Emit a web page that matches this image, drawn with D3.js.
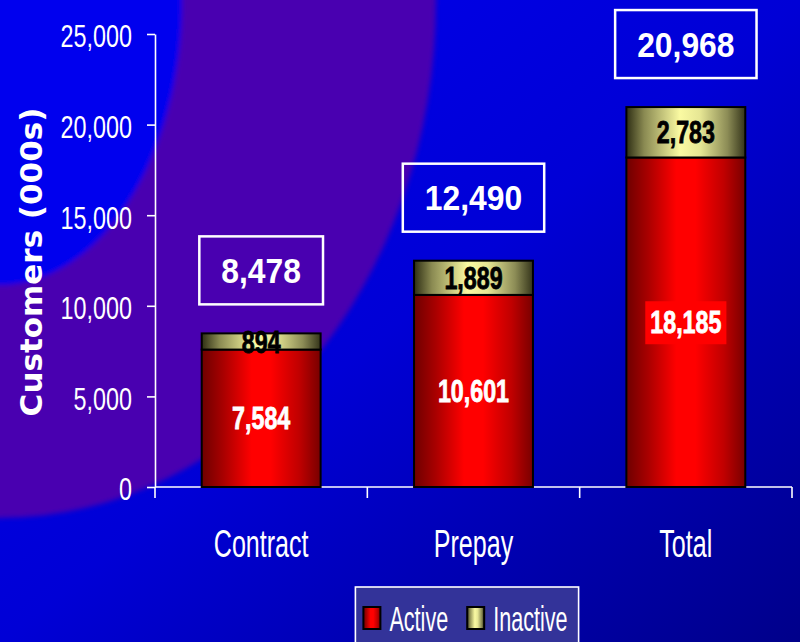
<!DOCTYPE html>
<html>
<head>
<meta charset="utf-8">
<script src="https://cdn.jsdelivr.net/npm/d3@7"></script>
<style>
  html, body { margin: 0; padding: 0; background: #0000cc; }
  svg { display: block; }
</style>
</head>
<body>
<div id="chart"></div>
<script>
// data
var categories = ["Contract", "Prepay", "Total"];
var activeValues = [7584, 10601, 18185];
var inactiveValues = [894, 1889, 2783];
var totalValues = [8478, 12490, 20968];
var yTickValues = [0, 5000, 10000, 15000, 20000, 25000];
var seriesNames = ["Active", "Inactive"];

var W = 800, H = 642;
var margin = {top: 34, right: 8, bottom: 155, left: 155};
var plotW = W - margin.left - margin.right,
    plotH = H - margin.top - margin.bottom;

var fmt = d3.format(",");

var svg = d3.select("#chart").append("svg")
    .attr("width", W)
    .attr("height", H);

var defs = svg.append("defs");

// background gradients
var bg = defs.append("linearGradient").attr("id", "bg")
    .attr("x1", 0).attr("y1", 0).attr("x2", 1).attr("y2", 1);
bg.append("stop").attr("offset", 0).attr("stop-color", "#0000f2");
bg.append("stop").attr("offset", 0.5).attr("stop-color", "#0000d6");
bg.append("stop").attr("offset", 1).attr("stop-color", "#00008a");

defs.append("filter").attr("id", "soft")
  .append("feGaussianBlur").attr("stdDeviation", 2.5);

// bar shading
function shade(id, stops) {
    var g = defs.append("linearGradient").attr("id", id)
        .attr("x1", 0).attr("y1", 0).attr("x2", 1).attr("y2", 0);
    stops.forEach(function(s) {
        g.append("stop").attr("offset", s[0]).attr("stop-color", s[1]);
    });
}
shade("redShade", [[0, "#6e0000"], [0.18, "#a80000"], [0.42, "#ff0000"], [0.58, "#ff0000"], [0.82, "#c00000"], [1, "#780000"]]);
shade("yelShade", [[0, "#2e2e14"], [0.15, "#8a8a52"], [0.45, "#fafaa2"], [0.62, "#e6e694"], [0.85, "#8c8c56"], [1, "#34341a"]]);

svg.append("rect").attr("width", W).attr("height", H).attr("fill", "url(#bg)");

// purple blob round the top-left corner
var blob = svg.append("g").attr("filter", "url(#soft)");
blob.append("ellipse")
    .attr("cx", 0).attr("cy", 0).attr("rx", 436).attr("ry", 518)
    .attr("fill", "#4a00b0");
blob.append("ellipse")
    .attr("cx", 0).attr("cy", 0).attr("rx", 182).attr("ry", 285)
    .attr("fill", "#0000ee");

var g = svg.append("g")
    .attr("transform", "translate(" + margin.left + "," + margin.top + ")");

var x = d3.scaleBand()
    .domain(categories)
    .range([0, plotW])
    .padding(0);

var y = d3.scaleLinear()
    .domain([0, 25000])
    .range([plotH, 0]);

var barW = x.bandwidth() * 0.56;
var barOff = (x.bandwidth() - barW) / 2;

var rows = categories.map(function(c, i) {
    return {cat: c, active: activeValues[i], inactive: inactiveValues[i], total: totalValues[i]};
});

// condensed text helper: squeeze horizontally around given x
function squeeze(sel, k, cx) {
    sel.attr("transform", "scale(" + k + ",1)")
       .attr("x", function(d, i) { return (typeof cx === "function" ? cx(d, i) : cx) / k; });
}

// y axis
var yAxis = g.append("g")
    .call(d3.axisLeft(y).tickValues(yTickValues).tickSize(8).tickSizeOuter(0).tickFormat(fmt));
yAxis.select(".domain").attr("stroke", "#fff").attr("stroke-width", 1.6);
yAxis.selectAll(".tick line").attr("stroke", "#fff").attr("stroke-width", 1.6);
yAxis.selectAll(".tick text")
    .attr("fill", "#fff")
    .attr("font-family", "'Liberation Sans', Arial, sans-serif")
    .attr("font-size", 32)
    .attr("dy", "0.4em")
    .call(squeeze, 0.73, -23);

// x axis: baseline with ticks at band edges
g.append("line")
    .attr("x1", 0).attr("x2", plotW)
    .attr("y1", plotH).attr("y2", plotH)
    .attr("stroke", "#fff").attr("stroke-width", 1.6);
var edges = categories.map(function(c) { return x(c); }).concat([plotW]);
g.selectAll(".xtick").data(edges).enter().append("line")
    .attr("class", "xtick")
    .attr("x1", function(d) { return d; }).attr("x2", function(d) { return d; })
    .attr("y1", plotH).attr("y2", plotH + 11)
    .attr("stroke", "#fff").attr("stroke-width", 1.6);

g.selectAll(".cat").data(categories).enter().append("text")
    .attr("class", "cat")
    .attr("y", plotH + 70)
    .attr("text-anchor", "middle")
    .attr("fill", "#fff")
    .attr("font-family", "'Liberation Sans', Arial, sans-serif")
    .attr("font-size", 38)
    .text(function(d) { return d; })
    .call(squeeze, 0.66, function(d) { return x(d) + x.bandwidth() / 2; });

// y axis title
svg.append("text")
    .attr("transform", "translate(42,262) rotate(-90)")
    .attr("text-anchor", "middle")
    .attr("fill", "#fff")
    .attr("font-family", "'DejaVu Sans', sans-serif")
    .attr("font-weight", "bold")
    .attr("font-size", 31)
    .text("Customers (000s)");

// bars
var bars = g.selectAll(".bar").data(rows).enter().append("g").attr("class", "bar");

bars.append("rect")
    .attr("x", function(d) { return x(d.cat) + barOff; })
    .attr("y", function(d) { return y(d.active); })
    .attr("width", barW)
    .attr("height", function(d) { return plotH - y(d.active); })
    .attr("fill", "url(#redShade)")
    .attr("stroke", "#000").attr("stroke-width", 2);

bars.append("rect")
    .attr("x", function(d) { return x(d.cat) + barOff; })
    .attr("y", function(d) { return y(d.active + d.inactive); })
    .attr("width", barW)
    .attr("height", function(d) { return y(d.active) - y(d.active + d.inactive); })
    .attr("fill", "url(#yelShade)")
    .attr("stroke", "#000").attr("stroke-width", 2);

function cx(d) { return x(d.cat) + x.bandwidth() / 2; }

// active labels (the Total one sits on a red label box)
bars.each(function(d) {
    var b = d3.select(this);
    var cy = (y(d.active) + plotH) / 2;
    var t = b.append("text")
        .attr("y", cy)
        .attr("dy", "0.36em")
        .attr("text-anchor", "middle")
        .attr("fill", "#fff")
        .attr("stroke", "#fff").attr("stroke-width", 0.8)
        .attr("font-family", "'Liberation Sans', Arial, sans-serif")
        .attr("font-weight", "bold")
        .attr("font-size", 31)
        .text(fmt(d.active))
        .call(squeeze, 0.75, cx(d));
    if (d.cat === "Total") {
        var w = t.node().getComputedTextLength() * 0.75 + 10;
        b.insert("rect", "text")
            .attr("x", cx(d) - w / 2).attr("y", cy - 21)
            .attr("width", w).attr("height", 43)
            .attr("fill", "#ff0000");
    }
});

// inactive labels
bars.append("text")
    .attr("y", function(d) { return (y(d.active + d.inactive) + y(d.active)) / 2; })
    .attr("dy", "0.36em")
    .attr("text-anchor", "middle")
    .attr("fill", "#000")
    .attr("stroke", "#000").attr("stroke-width", 0.8)
    .attr("font-family", "'Liberation Sans', Arial, sans-serif")
    .attr("font-weight", "bold")
    .attr("font-size", 31)
    .text(function(d) { return fmt(d.inactive); })
    .call(squeeze, 0.75, cx);

// total boxes above the bars
var boxH = 68, gap = 29;
bars.each(function(d) {
    var b = d3.select(this);
    var bottom = y(d.total) - gap;
    var t = b.append("text")
        .attr("y", bottom - boxH / 2)
        .attr("dy", "0.36em")
        .attr("text-anchor", "middle")
        .attr("fill", "#fff")
        .attr("font-family", "'Liberation Sans', Arial, sans-serif")
        .attr("font-weight", "bold")
        .attr("font-size", 35)
        .text(fmt(d.total))
        .call(squeeze, 0.91, cx(d));
    var w = t.node().getComputedTextLength() * 0.91 + 44;
    b.insert("rect", "text")
        .attr("x", cx(d) - w / 2).attr("y", bottom - boxH)
        .attr("width", w).attr("height", boxH)
        .attr("fill", "none")
        .attr("stroke", "#fff").attr("stroke-width", 2.5);
});

// legend
var legend = svg.append("g");
var legBox = legend.append("rect")
    .attr("y", 587).attr("height", 80)
    .attr("fill", "#333399")
    .attr("stroke", "#fff").attr("stroke-width", 1.6);
var lx = 0;
var items = legend.selectAll(".item").data(seriesNames).enter().append("g").attr("class", "item");
items.each(function(name, i) {
    var it = d3.select(this);
    it.append("rect")
        .attr("x", lx + 8).attr("y", 607)
        .attr("width", 17).attr("height", 22)
        .attr("fill", i === 0 ? "url(#redShade)" : "url(#yelShade)")
        .attr("stroke", "#000").attr("stroke-width", 2);
    var t = it.append("text")
        .attr("y", 631)
        .attr("fill", "#fff")
        .attr("font-family", "'Liberation Sans', Arial, sans-serif")
        .attr("font-size", 36)
        .text(name)
        .call(squeeze, 0.6, lx + 34);
    lx += 34 + t.node().getComputedTextLength() * 0.6 + 11;
});
var legW = lx;
var legX = 467 - legW / 2;
legBox.attr("x", 0).attr("width", legW);
legend.attr("transform", "translate(" + legX + ",0)");
</script>
</body>
</html>
